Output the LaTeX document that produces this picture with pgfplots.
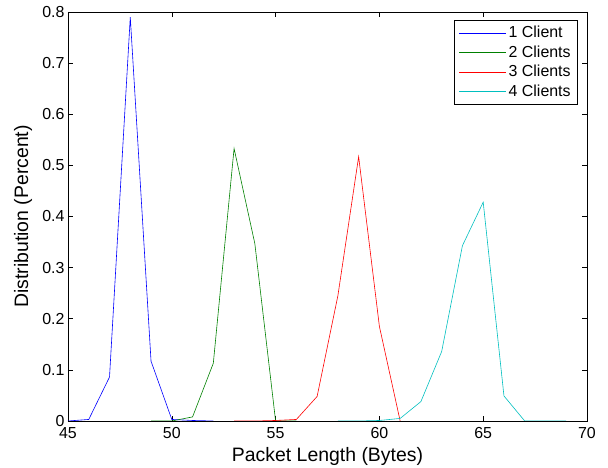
\documentclass[border=0pt]{standalone}
\usepackage{pgfplots}
\pgfplotsset{compat=1.18}
\usepackage{fontspec}
\setmainfont{Liberation Sans}
\usetikzlibrary{calc}

\definecolor{mblue}{rgb}{0,0,1}
\definecolor{mgreen}{rgb}{0,0.5,0}
\definecolor{mred}{rgb}{1,0,0}
\definecolor{mcyan}{rgb}{0,0.75,0.75}

\begin{document}
\begin{tikzpicture}
\begin{axis}[
    scale only axis,
    width=519bp, height=409bp,
    xmin=45, xmax=70, ymin=0, ymax=0.8,
    xtick={45,50,...,70},
    ytick={0,0.1,...,0.8},
    yticklabel style={/pgf/number format/fixed},
    xticklabel style={yshift=-3bp},
    /pgf/number format/assume math mode=true,
    tick align=inside,
    major tick length=5bp,
    tick style={black, line width=0.5pt},
    axis line style={line width=0.8pt},
    ticklabel style={font=\fontsize{16}{18}\selectfont},
    label style={font=\fontsize{19.5}{22}\selectfont},
    xlabel={Packet Length (Bytes)},
    ylabel={Distribution (Percent)},
    xlabel style={at={(axis description cs:0.5,-0.1)}, anchor=base},
    ylabel style={at={(axis description cs:-0.077,0.5)}, anchor=base, rotate=0},
    legend style={at={(1,1)}, anchor=north east, xshift=-9bp, yshift=-8bp,
        font=\fontsize{16}{18}\selectfont, draw=black, line width=0.7pt,
        inner xsep=5bp, inner ysep=4bp, row sep=2.5bp},
    legend cell align=left,
    legend image code/.code={\draw[#1] (0bp,0bp) -- (47bp,0bp);},
    every axis plot/.append style={line width=0.6pt},
]
\addplot[color=mblue] coordinates {
    (45,0.0) (46,0.003) (47,0.086) (48,0.79) (49,0.117) (50,0.003) (51,0.001) (52,0.0)
};
\addlegendentry{1 Client}

\addplot[color=mgreen] coordinates {
    (49,0.0) (50,0.0) (51,0.008) (52,0.113) (53,0.533) (54,0.347) (55,0.0) (56,0.0)
};
\addlegendentry{2 Clients}

\addplot[color=mred] coordinates {
    (53,0.0) (54,0.0) (55,0.001) (56,0.003) (57,0.048) (58,0.245) (59,0.517) (60,0.185) (61,0.0)
};
\addlegendentry{3 Clients}

\addplot[color=mcyan] coordinates {
    (58,0.0) (59,0.0) (60,0.001) (61,0.005) (62,0.038) (63,0.136) (64,0.343) (65,0.428) (66,0.049) (67,0.0) (68,0.0) (69,0.0)
};
\addlegendentry{4 Clients}

\coordinate (sw) at (rel axis cs:0,0);
\coordinate (ne) at (rel axis cs:1,1);
\end{axis}
\pgfresetboundingbox
\path ($(sw)+(-68bp,-47bp)$) rectangle ($(ne)+(21bp,12bp)$);
\end{tikzpicture}
\end{document}
